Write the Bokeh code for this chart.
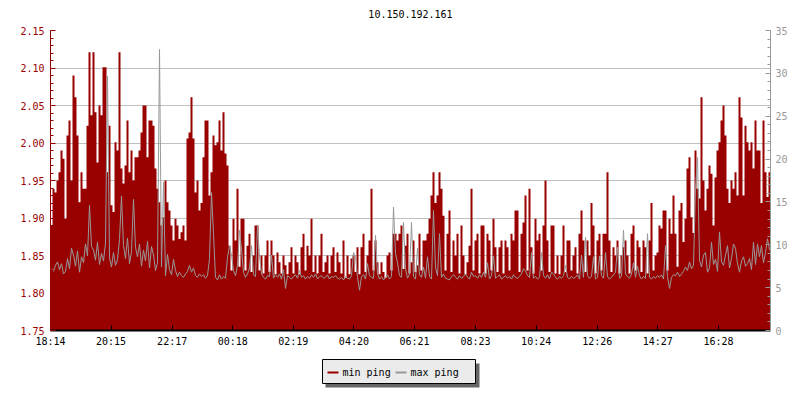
import numpy as np
from bokeh.plotting import figure
from bokeh.layouts import column
from bokeh.models import Range1d, LinearAxis, FixedTicker, PrintfTickFormatter
from bokeh.core.properties import value
from bokeh.embed import file_html
from bokeh.resources import INLINE

TITLE = "10.150.192.161"
SPAN_MIN = 1438  # minutes covered by the x axis, starting 18:14
x_tick_minutes = [0, 121, 243, 364, 485, 606, 727, 849, 970, 1092, 1213, 1334]
x_tick_labels = ["18:14", "20:15", "22:17", "00:18", "02:19", "04:20",
                 "06:21", "08:23", "10:24", "12:26", "14:27", "16:28"]
left_ticks = [1.75, 1.80, 1.85, 1.90, 1.95, 2.00, 2.05, 2.10, 2.15]
right_ticks = [0, 5, 10, 15, 20, 25, 30, 35]
series_names = ["min ping", "max ping"]

min_ping = [
    # 18:14 - 23:00
    1.89, 1.939, 1.934, 1.95, 1.961, 1.99, 1.979, 1.899, 2.01, 2.03,
    1.95, 2.09, 2.061, 2.01, 1.921, 1.961, 1.939, 1.939, 2.023, 2.121,
    2.037, 2.121, 2.041, 1.974, 2.05, 2.037, 2.101, 2.101, 1.961, 2.023,
    1.917, 1.908, 2.001, 1.99, 2.121, 1.966, 1.946, 1.97, 2.03, 1.961,
    1.99, 1.95, 1.981, 1.981, 1.99, 2.014, 2.05, 2.05, 1.981, 2.03,
    2.03, 2.023, 1.966, 1.939, 1.921, 1.89, 1.901, 1.95, 1.921, 1.91,
    1.89, 1.87, 1.899, 1.89, 1.872, 1.881, 1.89, 1.87, 2.006, 2.014,
    2.061, 2.006,
    # 23:00 - 03:50
    1.934, 1.95, 1.91, 1.92, 1.981, 2.03, 2.03, 1.93, 1.961, 2.01,
    1.997, 2.001, 2.03, 1.99, 2.041, 1.986, 1.97, 1.863, 1.83, 1.899,
    1.87, 1.939, 1.835, 1.899, 1.899, 1.83, 1.863, 1.879, 1.828, 1.85,
    1.89, 1.89, 1.83, 1.85, 1.826, 1.85, 1.87, 1.828, 1.87, 1.85,
    1.825, 1.854, 1.841, 1.826, 1.85, 1.837, 1.825, 1.841, 1.861, 1.826,
    1.85, 1.841, 1.825, 1.861, 1.879, 1.83, 1.863, 1.85, 1.899, 1.828,
    1.85, 1.826, 1.85, 1.879, 1.828, 1.841, 1.85, 1.826, 1.85, 1.861,
    1.828, 1.854,
    # 03:50 - 08:40
    1.841, 1.826, 1.87, 1.82, 1.85, 1.825, 1.846, 1.85, 1.828, 1.861,
    1.825, 1.861, 1.879, 1.828, 1.85, 1.87, 1.939, 1.83, 1.87, 1.841,
    1.825, 1.841, 1.828, 1.82, 1.85, 1.854, 1.83, 1.879, 1.879, 1.87,
    1.879, 1.89, 1.832, 1.863, 1.879, 1.826, 1.841, 1.87, 1.828, 1.837,
    1.879, 1.83, 1.87, 1.87, 1.879, 1.899, 1.93, 1.961, 1.92, 1.93,
    1.961, 1.939, 1.903, 1.83, 1.879, 1.91, 1.828, 1.87, 1.85, 1.879,
    1.826, 1.89, 1.85, 1.825, 1.841, 1.863, 1.939, 1.83, 1.87, 1.879,
    1.826, 1.89,
    # 08:40 - 13:25
    1.89, 1.826, 1.879, 1.87, 1.83, 1.899, 1.861, 1.828, 1.861, 1.87,
    1.826, 1.87, 1.861, 1.83, 1.879, 1.87, 1.91, 1.91, 1.828, 1.879,
    1.894, 1.93, 1.83, 1.939, 1.861, 1.826, 1.899, 1.87, 1.879, 1.83,
    1.89, 1.95, 1.87, 1.828, 1.89, 1.89, 1.826, 1.85, 1.825, 1.85,
    1.89, 1.828, 1.87, 1.87, 1.83, 1.85, 1.861, 1.826, 1.879, 1.91,
    1.87, 1.828, 1.87, 1.85, 1.92, 1.89, 1.826, 1.87, 1.879, 1.83,
    1.879, 1.879, 1.961, 1.87, 1.828, 1.861, 1.85, 1.87, 1.826, 1.85,
    1.861, 1.87,
    # 13:25 - 18:12
    1.85, 1.826, 1.879, 1.89, 1.83, 1.87, 1.861, 1.828, 1.87, 1.861,
    1.826, 1.87, 1.92, 1.83, 1.85, 1.854, 1.89, 1.886, 1.91, 1.91,
    1.83, 1.899, 1.879, 1.93, 1.879, 1.835, 1.91, 1.92, 1.868, 1.899,
    1.966, 1.981, 1.901, 1.88, 1.99, 1.939, 1.926, 2.061, 1.95, 1.91,
    1.939, 1.97, 1.959, 1.89, 1.954, 1.99, 2.001, 2.03, 2.05, 2.01,
    1.939, 1.92, 1.95, 1.939, 1.961, 1.93, 2.061, 2.034, 1.93, 2.023,
    2.001, 1.99, 2.001, 1.966, 2.03, 1.99, 1.99, 1.92, 2.03, 1.961,
    1.928, 1.961,
]

max_ping = [
    7.2, 6.9, 7.6, 8.0, 7.1, 7.8, 6.6, 6.9, 8.4, 7.2,
    9.6, 8.8, 7.5, 9.3, 6.8, 8.6, 7.9, 10.1, 8.7, 14.6,
    9.8, 9.4, 8.2, 10.3, 7.7, 9.0, 8.1, 10.2, 29.7, 8.5,
    7.4, 9.1, 7.6, 8.3, 10.6, 15.7, 9.9, 8.4, 10.8, 7.8,
    9.2, 15.3, 9.7, 8.6, 10.1, 7.5, 9.4, 8.1, 10.4, 7.3,
    9.8, 8.8, 7.0, 7.9, 32.8, 7.4, 17.3, 6.4, 8.9, 7.1,
    6.5, 8.3, 7.0, 6.3, 6.8, 6.4, 6.2, 6.6, 6.9, 7.6,
    6.8, 7.3,
    6.4, 6.2, 6.6, 6.3, 6.5, 6.1, 6.4, 8.4, 16.1, 11.3,
    6.2, 5.9, 6.5, 6.0, 6.3, 6.1, 8.5, 9.9, 8.8, 7.0,
    6.4, 7.6, 11.7, 9.5, 6.8, 6.2, 6.6, 7.3, 9.9, 6.5,
    6.3, 12.2, 8.7, 6.6, 6.2, 6.0, 6.4, 6.3, 8.8, 6.1,
    6.5, 6.2, 6.6, 6.0, 7.1, 4.9, 6.4, 6.2, 6.0, 6.3,
    6.5, 6.1, 7.0, 6.2, 6.4, 6.0, 6.3, 6.1, 6.5, 6.2,
    6.6, 6.0, 6.3, 6.4, 6.1, 6.2, 6.5, 6.0, 6.3, 6.2,
    6.4, 6.1,
    6.0, 6.2, 5.9, 6.3, 6.1, 6.0, 6.4, 9.1, 8.6, 6.2,
    4.7, 6.3, 6.5, 6.0, 7.8, 6.4, 6.2, 6.1, 11.1, 6.6,
    6.0, 6.3, 5.9, 6.2, 6.5, 6.0, 6.3, 14.4, 9.0, 7.9,
    6.4, 6.2, 12.6, 7.2, 6.1, 6.6, 12.6, 6.3, 6.0, 9.6,
    6.5, 6.2, 7.4, 6.1, 8.6, 6.3, 6.0, 14.0, 7.3, 6.4,
    11.3, 6.2, 6.6, 6.1, 6.0, 5.9, 6.3, 6.5, 6.2, 6.0,
    6.4, 6.1, 6.3, 6.6, 6.2, 6.0, 6.8, 6.3, 6.4, 6.1,
    6.5, 6.2,
    6.8, 6.2, 7.9, 6.0, 6.4, 8.7, 6.1, 6.3, 6.5, 6.0,
    6.2, 6.4, 6.1, 6.3, 6.0, 6.5, 6.2, 6.1, 6.3, 6.6,
    7.2, 7.0, 6.4, 6.2, 9.1, 6.1, 6.3, 6.0, 6.2, 9.1,
    6.4, 6.1, 6.5, 6.0, 6.8, 6.6, 6.2, 6.0, 6.3, 6.1,
    6.4, 7.6, 6.2, 6.0, 6.3, 6.1, 6.2, 6.5, 6.0, 8.8,
    6.2, 10.9, 6.4, 6.1, 6.3, 8.6, 6.0, 6.2, 8.7, 6.4,
    6.1, 9.1, 6.3, 6.0, 6.2, 6.5, 6.8, 9.7, 6.1, 6.3,
    11.7, 6.6,
    6.3, 6.1, 6.6, 7.9, 6.2, 7.5, 6.4, 6.0, 6.3, 6.1,
    11.3, 6.2, 6.0, 6.3, 6.1, 6.4, 6.2, 6.5, 6.0, 9.9,
    6.3, 4.9, 6.2, 6.5, 6.4, 6.8, 6.3, 6.6, 6.9, 7.4,
    7.0, 8.0, 7.2, 7.6, 16.6, 20.2, 8.2, 7.4, 8.8, 9.1,
    6.8, 7.3, 10.3, 7.7, 8.3, 6.9, 11.5, 8.0, 7.6, 8.8,
    9.9, 7.3, 8.4, 10.1, 9.6, 7.8, 6.8, 8.1, 8.6, 7.5,
    7.8, 8.4, 7.1, 10.3, 7.7, 10.1, 8.6, 9.9, 7.9, 9.1,
    10.7, 9.4,
]

FONT = "DejaVu Sans Mono"
FS = "10px"
RED = "#990000"
GRAY = "#999999"
SHADOW = "#666666"
LEGEND_BG = "#ebebeb"
BL, BR = 50, 30          # left / right borders shared by all three strips
W = 800

n = len(min_ping)
t_min = np.arange(n + 1) * SPAN_MIN / n
y_min = np.array(min_ping + [min_ping[-1]])
m = len(max_ping)
t_max = (np.arange(m) + 0.5) * SPAN_MIN / m
y_max = np.array(max_ping)


def strip(height):
    """A blank figure whose frame uses page-pixel coordinates."""
    f = figure(width=W, height=height, output_backend="svg", toolbar_location=None,
               x_range=Range1d(BL, W - BR), y_range=Range1d(height, 0),
               min_border_left=BL, min_border_right=BR, min_border_top=0, min_border_bottom=0,
               x_axis_location=None, y_axis_location=None)
    f.outline_line_color = None
    f.grid.visible = False
    f.background_fill_color = "white"
    f.border_fill_color = "white"
    return f


# title strip
tf = strip(24)
tf.text(x=[(BL + W - BR) / 2], y=[13.5], text=[TITLE], text_font=value(FONT),
        text_font_size=value(FS), text_align="center", text_baseline="middle",
        text_color="black")

# main chart
p = figure(width=W, height=328, output_backend="svg", toolbar_location=None,
           x_range=Range1d(0, SPAN_MIN), y_range=Range1d(left_ticks[0], left_ticks[-1]),
           min_border_left=BL, min_border_right=BR, min_border_top=6, min_border_bottom=22)
p.extra_y_ranges = {"right": Range1d(right_ticks[0], right_ticks[-1])}
p.outline_line_color = None
p.background_fill_color = "white"
p.border_fill_color = "white"

# bottom axis
xa = p.xaxis[0]
xa.ticker = FixedTicker(ticks=x_tick_minutes)
xa.major_label_overrides = dict(zip(x_tick_minutes, x_tick_labels))
xa.axis_line_color = "black"
xa.axis_line_width = 2
xa.major_tick_line_color = "black"
xa.major_tick_in = 5
xa.major_tick_out = 0
xa.minor_tick_line_color = None
xa.major_label_text_font = FONT
xa.major_label_text_font_size = FS
xa.major_label_text_color = "black"
xa.major_label_standoff = 5

# left axis
minor_left = np.round(np.arange(left_ticks[0], left_ticks[-1] + 0.001, 0.01), 2).tolist()
ya = p.yaxis[0]
ya.ticker = FixedTicker(ticks=left_ticks, minor_ticks=minor_left)
ya.formatter = PrintfTickFormatter(format="%.2f")
ya.axis_line_color = RED
ya.major_tick_line_color = RED
ya.minor_tick_line_color = RED
ya.major_tick_in = 5
ya.major_tick_out = 0
ya.minor_tick_in = 3
ya.minor_tick_out = 0
ya.major_label_text_font = FONT
ya.major_label_text_font_size = FS
ya.major_label_text_color = RED
ya.major_label_standoff = 6

# right axis
ra = LinearAxis(y_range_name="right",
                ticker=FixedTicker(ticks=right_ticks,
                                   minor_ticks=list(range(right_ticks[0], right_ticks[-1] + 1))))
ra.axis_line_color = GRAY
ra.major_tick_line_color = GRAY
ra.minor_tick_line_color = GRAY
ra.major_tick_in = 5
ra.major_tick_out = 0
ra.minor_tick_in = 3
ra.minor_tick_out = 0
ra.major_label_text_font = FONT
ra.major_label_text_font_size = FS
ra.major_label_text_color = GRAY
ra.major_label_standoff = 5
p.add_layout(ra, "right")

p.xgrid.visible = False
p.ygrid[0].ticker = ya.ticker
p.ygrid.grid_line_color = "#c0c0c0"
p.ygrid.grid_line_width = 1

# data
p.varea_step(x=t_min, y1=np.full(n + 1, left_ticks[0]), y2=y_min,
             step_mode="after", fill_color=RED, fill_alpha=1)
p.line(x=t_max, y=y_max, line_color=GRAY, line_width=1, y_range_name="right")

# legend strip below the chart (box with drop shadow)
lg = strip(48)
lg.quad(left=[325], right=[479], top=[11], bottom=[35], fill_color=SHADOW, line_color=None)
lg.quad(left=[322], right=[475], top=[7], bottom=[31], fill_color=LEGEND_BG,
        line_color="black", line_width=1)
lg.segment(x0=[327, 395], x1=[338, 406], y0=[20, 20], y1=[20, 20],
           line_color=[RED, GRAY], line_width=2)
lg.text(x=[342, 410], y=[19.5, 19.5], text=series_names, text_font=value(FONT),
        text_font_size=value(FS), text_baseline="middle", text_align="left",
        text_color="black")

layout = column(tf, p, lg, spacing=0)
open("out.html", "w").write(file_html(layout, INLINE))
